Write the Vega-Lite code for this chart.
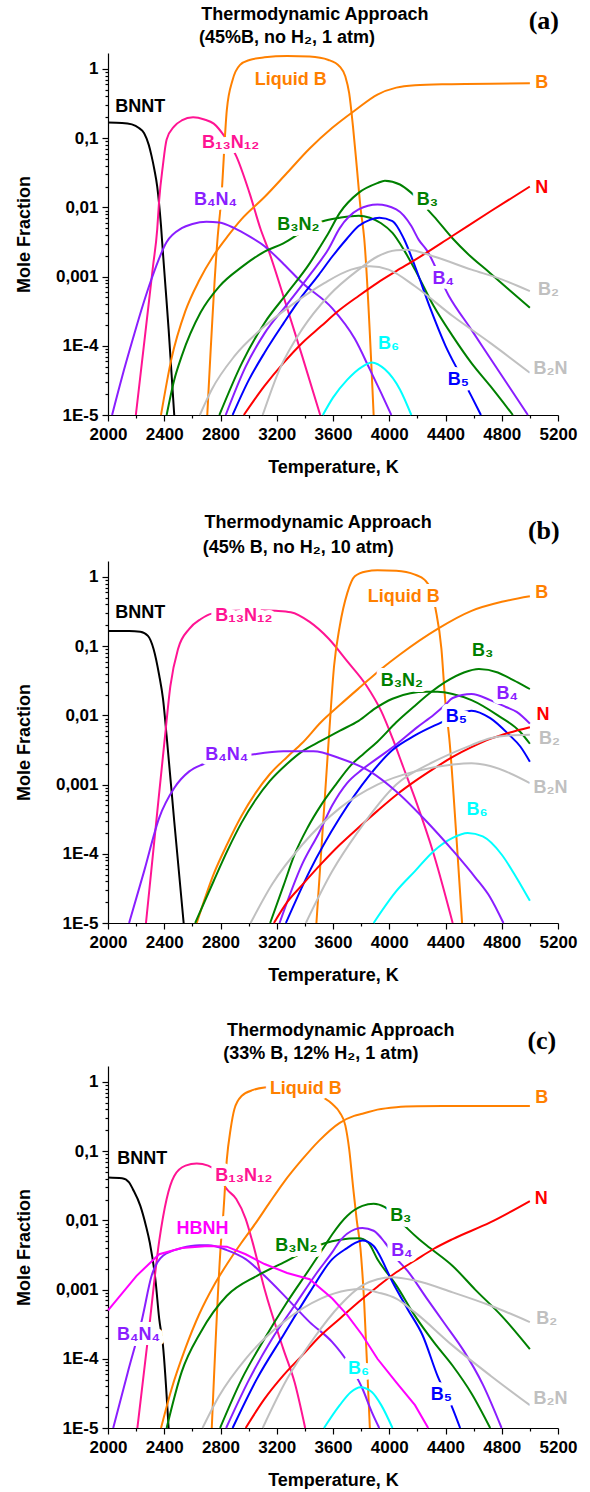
{
"$schema": "https://vega.github.io/schema/vega-lite/v6.json",
"padding": {"left": 15, "top": 5, "right": 4, "bottom": 0},
"spacing": 38,
"config": {
  "view": {"stroke": null},
  "axis": {"domainColor": "black", "domainWidth": 1.2, "tickColor": "black", "tickWidth": 1.2, "labelFont": "Liberation Sans", "labelFontWeight": "bold", "labelFontSize": 17, "labelColor": "black", "titleFont": "Liberation Sans", "titleFontWeight": "bold", "titleFontSize": 18, "titleColor": "black", "grid": false, "labelOverlap": false, "labelFlush": false, "labelBound": false},
  "text": {"font": "Liberation Sans", "fontSize": 18, "fontWeight": "bold"},
  "line": {"strokeWidth": 2, "interpolate": "monotone", "clip": true}
},
"datasets": {
"a": [
{"s":"BNNT","T":2000,"v":0.168},{"s":"BNNT","T":2100,"v":0.166},{"s":"BNNT","T":2170,"v":0.158},{"s":"BNNT","T":2220,"v":0.14},{"s":"BNNT","T":2257,"v":0.118},{"s":"BNNT","T":2290,"v":0.08},{"s":"BNNT","T":2310,"v":0.055},{"s":"BNNT","T":2330,"v":0.035},{"s":"BNNT","T":2350,"v":0.02},{"s":"BNNT","T":2377,"v":0.0054},{"s":"BNNT","T":2390,"v":0.0023},{"s":"BNNT","T":2410,"v":0.00066},{"s":"BNNT","T":2431,"v":0.000174},{"s":"BNNT","T":2450,"v":0.000045},{"s":"BNNT","T":2471,"v":0.00001},
{"s":"B13N12","T":2198,"v":1e-5},{"s":"B13N12","T":2260,"v":1.23e-4},{"s":"B13N12","T":2320,"v":1.41e-3},{"s":"B13N12","T":2350,"v":4.8e-3},{"s":"B13N12","T":2364,"v":0.0129},{"s":"B13N12","T":2390,"v":0.0398},{"s":"B13N12","T":2417,"v":0.0955},{"s":"B13N12","T":2471,"v":0.148},{"s":"B13N12","T":2524,"v":0.18},{"s":"B13N12","T":2605,"v":0.2},{"s":"B13N12","T":2685,"v":0.186},{"s":"B13N12","T":2752,"v":0.162},{"s":"B13N12","T":2830,"v":0.105},{"s":"B13N12","T":2912,"v":0.055},{"s":"B13N12","T":3006,"v":0.0162},{"s":"B13N12","T":3086,"v":4.79e-3},{"s":"B13N12","T":3140,"v":2.45e-3},{"s":"B13N12","T":3247,"v":5.25e-4},{"s":"B13N12","T":3381,"v":7.08e-5},{"s":"B13N12","T":3509,"v":1e-5},
{"s":"LiqB","T":2706,"v":1e-5},{"s":"LiqB","T":2779,"v":3.55e-3},{"s":"LiqB","T":2805,"v":0.0129},{"s":"LiqB","T":2845,"v":0.257},{"s":"LiqB","T":2886,"v":0.692},{"s":"LiqB","T":2939,"v":1.143},{"s":"LiqB","T":3006,"v":1.349},{"s":"LiqB","T":3113,"v":1.472},{"s":"LiqB","T":3274,"v":1.54},{"s":"LiqB","T":3434,"v":1.507},{"s":"LiqB","T":3568,"v":1.349},{"s":"LiqB","T":3648,"v":1.081},{"s":"LiqB","T":3688,"v":0.776},{"s":"LiqB","T":3715,"v":0.447},{"s":"LiqB","T":3742,"v":0.148},{"s":"LiqB","T":3769,"v":0.0389},{"s":"LiqB","T":3795,"v":0.0102},{"s":"LiqB","T":3822,"v":3.55e-3},{"s":"LiqB","T":3889,"v":1e-5},
{"s":"B","T":2377,"v":1e-5},{"s":"B","T":2450,"v":6.31e-5},{"s":"B","T":2550,"v":3.16e-4},{"s":"B","T":2650,"v":8.91e-4},{"s":"B","T":2750,"v":2e-3},{"s":"B","T":2850,"v":3.8e-3},{"s":"B","T":2950,"v":6.76e-3},{"s":"B","T":3113,"v":0.0141},{"s":"B","T":3274,"v":0.0316},{"s":"B","T":3434,"v":0.0708},{"s":"B","T":3595,"v":0.141},{"s":"B","T":3755,"v":0.251},{"s":"B","T":3916,"v":0.427},{"s":"B","T":4050,"v":0.537},{"s":"B","T":4183,"v":0.582},{"s":"B","T":4400,"v":0.603},{"s":"B","T":5000,"v":0.621},
{"s":"B4N4","T":2029,"v":1e-5},{"s":"B4N4","T":2100,"v":3.55e-5},{"s":"B4N4","T":2177,"v":1.26e-4},{"s":"B4N4","T":2250,"v":3.98e-4},{"s":"B4N4","T":2310,"v":9.3e-4},{"s":"B4N4","T":2417,"v":3.16e-3},{"s":"B4N4","T":2524,"v":5.01e-3},{"s":"B4N4","T":2600,"v":5.75e-3},{"s":"B4N4","T":2700,"v":6.2e-3},{"s":"B4N4","T":2792,"v":6.03e-3},{"s":"B4N4","T":2899,"v":5.01e-3},{"s":"B4N4","T":3006,"v":3.8e-3},{"s":"B4N4","T":3113,"v":2.75e-3},{"s":"B4N4","T":3250,"v":1.51e-3},{"s":"B4N4","T":3381,"v":8.13e-4},{"s":"B4N4","T":3595,"v":3.47e-4},{"s":"B4N4","T":3755,"v":1.26e-4},{"s":"B4N4","T":3862,"v":4.57e-5},{"s":"B4N4","T":3942,"v":2.09e-5},{"s":"B4N4","T":4015,"v":1e-5},
{"s":"B3N2","T":2417,"v":1e-5},{"s":"B3N2","T":2470,"v":3.16e-5},{"s":"B3N2","T":2524,"v":7.08e-5},{"s":"B3N2","T":2658,"v":3.02e-4},{"s":"B3N2","T":2792,"v":7.24e-4},{"s":"B3N2","T":2952,"v":1.38e-3},{"s":"B3N2","T":3113,"v":2.29e-3},{"s":"B3N2","T":3247,"v":3.02e-3},{"s":"B3N2","T":3400,"v":4.68e-3},{"s":"B3N2","T":3528,"v":6.31e-3},{"s":"B3N2","T":3648,"v":7.08e-3},{"s":"B3N2","T":3782,"v":7.59e-3},{"s":"B3N2","T":3862,"v":7.08e-3},{"s":"B3N2","T":3942,"v":5.89e-3},{"s":"B3N2","T":4023,"v":4.27e-3},{"s":"B3N2","T":4103,"v":2.45e-3},{"s":"B3N2","T":4183,"v":1.26e-3},{"s":"B3N2","T":4317,"v":3.72e-4},{"s":"B3N2","T":4451,"v":1.38e-4},{"s":"B3N2","T":4585,"v":5.62e-5},{"s":"B3N2","T":4718,"v":2.63e-5},{"s":"B3N2","T":4879,"v":1e-5},
{"s":"B3","T":2792,"v":1e-5},{"s":"B3","T":2952,"v":5.62e-5},{"s":"B3","T":3113,"v":2.14e-4},{"s":"B3","T":3274,"v":5.75e-4},{"s":"B3","T":3434,"v":1.55e-3},{"s":"B3","T":3514,"v":2.82e-3},{"s":"B3","T":3568,"v":4.27e-3},{"s":"B3","T":3648,"v":8.32e-3},{"s":"B3","T":3782,"v":0.0162},{"s":"B3","T":3916,"v":0.0224},{"s":"B3","T":3969,"v":0.0243},{"s":"B3","T":4076,"v":0.0214},{"s":"B3","T":4157,"v":0.0162},{"s":"B3","T":4317,"v":7.41e-3},{"s":"B3","T":4451,"v":3.55e-3},{"s":"B3","T":4558,"v":2.14e-3},{"s":"B3","T":4718,"v":1.12e-3},{"s":"B3","T":4852,"v":6.46e-4},{"s":"B3","T":5000,"v":3.55e-4},
{"s":"B4","T":2837,"v":1e-5},{"s":"B4","T":2979,"v":5.01e-5},{"s":"B4","T":3113,"v":1.51e-4},{"s":"B4","T":3274,"v":3.98e-4},{"s":"B4","T":3434,"v":1.05e-3},{"s":"B4","T":3568,"v":2.51e-3},{"s":"B4","T":3648,"v":5.01e-3},{"s":"B4","T":3782,"v":9.33e-3},{"s":"B4","T":3916,"v":0.011},{"s":"B4","T":4050,"v":9.33e-3},{"s":"B4","T":4157,"v":5.37e-3},{"s":"B4","T":4210,"v":3.39e-3},{"s":"B4","T":4264,"v":2.45e-3},{"s":"B4","T":4424,"v":5.25e-4},{"s":"B4","T":4585,"v":1.7e-4},{"s":"B4","T":4718,"v":6.6e-5},{"s":"B4","T":4986,"v":1e-5},
{"s":"B5","T":2886,"v":1e-5},{"s":"B5","T":3000,"v":3.16e-5},{"s":"B5","T":3113,"v":7.94e-5},{"s":"B5","T":3250,"v":2.14e-4},{"s":"B5","T":3381,"v":5.25e-4},{"s":"B5","T":3500,"v":1.07e-3},{"s":"B5","T":3595,"v":1.95e-3},{"s":"B5","T":3700,"v":3.55e-3},{"s":"B5","T":3782,"v":5.37e-3},{"s":"B5","T":3862,"v":6.61e-3},{"s":"B5","T":3930,"v":7.08e-3},{"s":"B5","T":4023,"v":6.31e-3},{"s":"B5","T":4103,"v":3.55e-3},{"s":"B5","T":4183,"v":1.41e-3},{"s":"B5","T":4290,"v":3.55e-4},{"s":"B5","T":4400,"v":1e-4},{"s":"B5","T":4500,"v":3.98e-5},{"s":"B5","T":4585,"v":1.86e-5},{"s":"B5","T":4652,"v":1e-5},
{"s":"B6","T":3528,"v":1e-5},{"s":"B6","T":3600,"v":1.78e-5},{"s":"B6","T":3702,"v":3.24e-5},{"s":"B6","T":3809,"v":5.01e-5},{"s":"B6","T":3876,"v":5.75e-5},{"s":"B6","T":3969,"v":4.57e-5},{"s":"B6","T":4076,"v":2.34e-5},{"s":"B6","T":4157,"v":1e-5},
{"s":"N","T":2966,"v":1e-5},{"s":"N","T":3113,"v":2.63e-5},{"s":"N","T":3247,"v":5.62e-5},{"s":"N","T":3381,"v":1.1e-4},{"s":"N","T":3514,"v":1.91e-4},{"s":"N","T":3648,"v":3.31e-4},{"s":"N","T":3782,"v":5.25e-4},{"s":"N","T":3916,"v":8.13e-4},{"s":"N","T":4050,"v":1.2e-3},{"s":"N","T":4183,"v":1.74e-3},{"s":"N","T":4451,"v":3.89e-3},{"s":"N","T":4718,"v":8.71e-3},{"s":"N","T":5000,"v":0.02},
{"s":"B2","T":3100,"v":1e-5},{"s":"B2","T":3220,"v":4.57e-5},{"s":"B2","T":3381,"v":1.74e-4},{"s":"B2","T":3568,"v":5.25e-4},{"s":"B2","T":3782,"v":1.26e-3},{"s":"B2","T":3916,"v":1.95e-3},{"s":"B2","T":4050,"v":2.4e-3},{"s":"B2","T":4130,"v":2.45e-3},{"s":"B2","T":4317,"v":1.95e-3},{"s":"B2","T":4585,"v":1.26e-3},{"s":"B2","T":4799,"v":9.12e-4},{"s":"B2","T":5000,"v":6.17e-4},
{"s":"B2N","T":2653,"v":1e-5},{"s":"B2N","T":2738,"v":2.34e-5},{"s":"B2N","T":2899,"v":7.08e-5},{"s":"B2N","T":3113,"v":1.91e-4},{"s":"B2N","T":3327,"v":4.17e-4},{"s":"B2N","T":3541,"v":8.13e-4},{"s":"B2N","T":3728,"v":1.26e-3},{"s":"B2N","T":3862,"v":1.41e-3},{"s":"B2N","T":3996,"v":1.26e-3},{"s":"B2N","T":4183,"v":7.24e-4},{"s":"B2N","T":4451,"v":2.69e-4},{"s":"B2N","T":4718,"v":1.1e-4},{"s":"B2N","T":5000,"v":4.07e-5}
],
"b": [
{"s":"BNNT","T":2000,"v":0.166},{"s":"BNNT","T":2150,"v":0.166},{"s":"BNNT","T":2230,"v":0.162},{"s":"BNNT","T":2284,"v":0.141},{"s":"BNNT","T":2324,"v":0.0912},{"s":"BNNT","T":2364,"v":0.038},{"s":"BNNT","T":2391,"v":0.0174},{"s":"BNNT","T":2417,"v":5.01e-3},{"s":"BNNT","T":2471,"v":2.95e-4},{"s":"BNNT","T":2538,"v":1e-5},
{"s":"B13N12","T":2270,"v":1e-5},{"s":"B13N12","T":2340,"v":2.51e-4},{"s":"B13N12","T":2404,"v":4.68e-3},{"s":"B13N12","T":2444,"v":0.0269},{"s":"B13N12","T":2498,"v":0.0912},{"s":"B13N12","T":2578,"v":0.178},{"s":"B13N12","T":2658,"v":0.245},{"s":"B13N12","T":2738,"v":0.295},{"s":"B13N12","T":2900,"v":0.324},{"s":"B13N12","T":3050,"v":0.331},{"s":"B13N12","T":3193,"v":0.324},{"s":"B13N12","T":3300,"v":0.309},{"s":"B13N12","T":3434,"v":0.224},{"s":"B13N12","T":3568,"v":0.129},{"s":"B13N12","T":3702,"v":0.0603},{"s":"B13N12","T":3835,"v":0.0275},{"s":"B13N12","T":3943,"v":0.0115},{"s":"B13N12","T":4023,"v":4.68e-3},{"s":"B13N12","T":4100,"v":1.78e-3},{"s":"B13N12","T":4183,"v":6.31e-4},{"s":"B13N12","T":4317,"v":9.77e-5},{"s":"B13N12","T":4451,"v":1e-5},
{"s":"LiqB","T":3482,"v":1e-5},{"s":"LiqB","T":3568,"v":3.98e-3},{"s":"LiqB","T":3608,"v":0.0525},{"s":"LiqB","T":3648,"v":0.195},{"s":"LiqB","T":3702,"v":0.589},{"s":"LiqB","T":3755,"v":1.023},{"s":"LiqB","T":3835,"v":1.202},{"s":"LiqB","T":3916,"v":1.247},{"s":"LiqB","T":4050,"v":1.23},{"s":"LiqB","T":4183,"v":1.081},{"s":"LiqB","T":4250,"v":0.916},{"s":"LiqB","T":4300,"v":0.631},{"s":"LiqB","T":4330,"v":0.339},{"s":"LiqB","T":4371,"v":0.0912},{"s":"LiqB","T":4397,"v":0.0174},{"s":"LiqB","T":4430,"v":3.98e-3},{"s":"LiqB","T":4478,"v":1.7e-4},{"s":"LiqB","T":4518,"v":1e-5},
{"s":"B","T":2631,"v":1e-5},{"s":"B","T":2750,"v":5.01e-5},{"s":"B","T":2850,"v":1.41e-4},{"s":"B","T":2950,"v":3.55e-4},{"s":"B","T":3050,"v":7.59e-4},{"s":"B","T":3150,"v":1.41e-3},{"s":"B","T":3274,"v":2.51e-3},{"s":"B","T":3381,"v":3.98e-3},{"s":"B","T":3514,"v":7.94e-3},{"s":"B","T":3648,"v":0.0141},{"s":"B","T":3800,"v":0.0263},{"s":"B","T":3943,"v":0.0468},{"s":"B","T":4076,"v":0.0759},{"s":"B","T":4344,"v":0.178},{"s":"B","T":4585,"v":0.324},{"s":"B","T":4800,"v":0.437},{"s":"B","T":5000,"v":0.525},
{"s":"B3N2","T":2620,"v":1e-5},{"s":"B3N2","T":2750,"v":3.98e-5},{"s":"B3N2","T":2850,"v":1.12e-4},{"s":"B3N2","T":2950,"v":2.82e-4},{"s":"B3N2","T":3050,"v":6.03e-4},{"s":"B3N2","T":3150,"v":1.12e-3},{"s":"B3N2","T":3274,"v":2e-3},{"s":"B3N2","T":3381,"v":3.02e-3},{"s":"B3N2","T":3514,"v":4.27e-3},{"s":"B3N2","T":3650,"v":6.03e-3},{"s":"B3N2","T":3782,"v":8.32e-3},{"s":"B3N2","T":3900,"v":0.0126},{"s":"B3N2","T":4023,"v":0.0174},{"s":"B3N2","T":4150,"v":0.0209},{"s":"B3N2","T":4264,"v":0.0219},{"s":"B3N2","T":4344,"v":0.0219},{"s":"B3N2","T":4450,"v":0.0204},{"s":"B3N2","T":4585,"v":0.0166},{"s":"B3N2","T":4772,"v":0.01},{"s":"B3N2","T":4932,"v":5.75e-3},{"s":"B3N2","T":5000,"v":3.89e-3},
{"s":"B3","T":3153,"v":1e-5},{"s":"B3","T":3250,"v":3.55e-5},{"s":"B3","T":3327,"v":9.77e-5},{"s":"B3","T":3420,"v":2.4e-4},{"s":"B3","T":3514,"v":5.01e-4},{"s":"B3","T":3620,"v":1e-3},{"s":"B3","T":3728,"v":1.91e-3},{"s":"B3","T":3820,"v":2.82e-3},{"s":"B3","T":3916,"v":4.17e-3},{"s":"B3","T":4050,"v":7.94e-3},{"s":"B3","T":4183,"v":0.0138},{"s":"B3","T":4300,"v":0.0219},{"s":"B3","T":4397,"v":0.0302},{"s":"B3","T":4531,"v":0.0417},{"s":"B3","T":4638,"v":0.0468},{"s":"B3","T":4772,"v":0.0417},{"s":"B3","T":4852,"v":0.0347},{"s":"B3","T":4930,"v":0.0288},{"s":"B3","T":5000,"v":0.024},
{"s":"B4","T":3220,"v":1e-5},{"s":"B4","T":3381,"v":7.08e-5},{"s":"B4","T":3500,"v":2e-4},{"s":"B4","T":3595,"v":5.01e-4},{"s":"B4","T":3700,"v":1.05e-3},{"s":"B4","T":3809,"v":1.66e-3},{"s":"B4","T":3930,"v":2.51e-3},{"s":"B4","T":4050,"v":3.8e-3},{"s":"B4","T":4200,"v":6.76e-3},{"s":"B4","T":4317,"v":0.0102},{"s":"B4","T":4397,"v":0.0141},{"s":"B4","T":4451,"v":0.0178},{"s":"B4","T":4585,"v":0.0204},{"s":"B4","T":4718,"v":0.0166},{"s":"B4","T":4830,"v":0.0132},{"s":"B4","T":4906,"v":0.0112},{"s":"B4","T":5000,"v":7.59e-3},
{"s":"B5","T":3265,"v":1e-5},{"s":"B5","T":3434,"v":5.62e-5},{"s":"B5","T":3648,"v":3.31e-4},{"s":"B5","T":3862,"v":1.38e-3},{"s":"B5","T":4023,"v":3.16e-3},{"s":"B5","T":4183,"v":5.13e-3},{"s":"B5","T":4371,"v":7.94e-3},{"s":"B5","T":4518,"v":0.011},{"s":"B5","T":4585,"v":0.0117},{"s":"B5","T":4718,"v":9.12e-3},{"s":"B5","T":4852,"v":5.25e-3},{"s":"B5","T":4932,"v":3.55e-3},{"s":"B5","T":5000,"v":2.14e-3},
{"s":"B6","T":3889,"v":1e-5},{"s":"B6","T":4050,"v":2.88e-5},{"s":"B6","T":4183,"v":5.62e-5},{"s":"B6","T":4317,"v":1.1e-4},{"s":"B6","T":4451,"v":1.7e-4},{"s":"B6","T":4558,"v":2e-4},{"s":"B6","T":4665,"v":1.78e-4},{"s":"B6","T":4799,"v":9.77e-5},{"s":"B6","T":4906,"v":4.47e-5},{"s":"B6","T":5000,"v":2.09e-5},
{"s":"N","T":3180,"v":1e-5},{"s":"N","T":3274,"v":2e-5},{"s":"N","T":3381,"v":3.55e-5},{"s":"N","T":3514,"v":7.08e-5},{"s":"N","T":3648,"v":1.35e-4},{"s":"N","T":3782,"v":2.4e-4},{"s":"N","T":3916,"v":4.17e-4},{"s":"N","T":4050,"v":7.08e-4},{"s":"N","T":4183,"v":1.12e-3},{"s":"N","T":4317,"v":1.7e-3},{"s":"N","T":4451,"v":2.51e-3},{"s":"N","T":4585,"v":3.47e-3},{"s":"N","T":4718,"v":4.57e-3},{"s":"N","T":4852,"v":5.62e-3},{"s":"N","T":5000,"v":6.76e-3},
{"s":"B2","T":3407,"v":1e-5},{"s":"B2","T":3595,"v":5.62e-5},{"s":"B2","T":3782,"v":2.14e-4},{"s":"B2","T":4050,"v":1e-3},{"s":"B2","T":4317,"v":2.14e-3},{"s":"B2","T":4585,"v":3.72e-3},{"s":"B2","T":4718,"v":4.68e-3},{"s":"B2","T":4850,"v":5.13e-3},{"s":"B2","T":5000,"v":5.25e-3},
{"s":"B2N","T":3014,"v":1e-5},{"s":"B2N","T":3167,"v":3.63e-5},{"s":"B2N","T":3381,"v":1.35e-4},{"s":"B2N","T":3648,"v":4.57e-4},{"s":"B2N","T":3916,"v":1e-3},{"s":"B2N","T":4183,"v":1.55e-3},{"s":"B2N","T":4451,"v":1.95e-3},{"s":"B2N","T":4585,"v":2.04e-3},{"s":"B2N","T":4718,"v":1.86e-3},{"s":"B2N","T":5000,"v":1.05e-3},
{"s":"B4N4","T":2150,"v":1e-5},{"s":"B4N4","T":2257,"v":5.62e-5},{"s":"B4N4","T":2364,"v":3.31e-4},{"s":"B4N4","T":2471,"v":8.91e-4},{"s":"B4N4","T":2578,"v":1.55e-3},{"s":"B4N4","T":2672,"v":1.95e-3},{"s":"B4N4","T":2845,"v":2.4e-3},{"s":"B4N4","T":3006,"v":2.69e-3},{"s":"B4N4","T":3247,"v":3.02e-3},{"s":"B4N4","T":3461,"v":3.02e-3},{"s":"B4N4","T":3648,"v":2.4e-3},{"s":"B4N4","T":3862,"v":1.55e-3},{"s":"B4N4","T":4050,"v":7.94e-4},{"s":"B4N4","T":4264,"v":2.95e-4},{"s":"B4N4","T":4451,"v":1.12e-4},{"s":"B4N4","T":4611,"v":4.57e-5},{"s":"B4N4","T":4718,"v":2.34e-5},{"s":"B4N4","T":4812,"v":1e-5}
],
"c": [
{"s":"BNNT","T":2000,"v":0.0417},{"s":"BNNT","T":2100,"v":0.0407},{"s":"BNNT","T":2150,"v":0.0355},{"s":"BNNT","T":2177,"v":0.0282},{"s":"BNNT","T":2230,"v":0.0162},{"s":"BNNT","T":2270,"v":8.32e-3},{"s":"BNNT","T":2297,"v":4.79e-3},{"s":"BNNT","T":2337,"v":1.41e-3},{"s":"BNNT","T":2364,"v":3.8e-4},{"s":"BNNT","T":2391,"v":1.55e-4},{"s":"BNNT","T":2431,"v":1e-5},
{"s":"B13N12","T":2209,"v":1e-5},{"s":"B13N12","T":2290,"v":2.51e-4},{"s":"B13N12","T":2364,"v":5.01e-3},{"s":"B13N12","T":2417,"v":0.0204},{"s":"B13N12","T":2471,"v":0.0437},{"s":"B13N12","T":2551,"v":0.0617},{"s":"B13N12","T":2631,"v":0.0661},{"s":"B13N12","T":2712,"v":0.0617},{"s":"B13N12","T":2765,"v":0.0525},{"s":"B13N12","T":2845,"v":0.0282},{"s":"B13N12","T":2912,"v":0.0204},{"s":"B13N12","T":2979,"v":0.0105},{"s":"B13N12","T":3026,"v":5.01e-3},{"s":"B13N12","T":3113,"v":1.02e-3},{"s":"B13N12","T":3247,"v":1.38e-4},{"s":"B13N12","T":3327,"v":4.57e-5},{"s":"B13N12","T":3402,"v":1e-5},
{"s":"LiqB","T":2738,"v":1e-5},{"s":"LiqB","T":2805,"v":5.37e-3},{"s":"LiqB","T":2819,"v":0.0117},{"s":"LiqB","T":2845,"v":0.0759},{"s":"LiqB","T":2872,"v":0.209},{"s":"LiqB","T":2899,"v":0.407},{"s":"LiqB","T":2952,"v":0.631},{"s":"LiqB","T":3033,"v":0.767},{"s":"LiqB","T":3113,"v":0.832},{"s":"LiqB","T":3300,"v":0.871},{"s":"LiqB","T":3450,"v":0.708},{"s":"LiqB","T":3595,"v":0.479},{"s":"LiqB","T":3648,"v":0.363},{"s":"LiqB","T":3688,"v":0.234},{"s":"LiqB","T":3715,"v":0.107},{"s":"LiqB","T":3742,"v":0.0316},{"s":"LiqB","T":3769,"v":0.01},{"s":"LiqB","T":3795,"v":3.98e-3},{"s":"LiqB","T":3822,"v":6.31e-4},{"s":"LiqB","T":3849,"v":3.98e-5},{"s":"LiqB","T":3862,"v":1e-5},
{"s":"B","T":2377,"v":1e-5},{"s":"B","T":2450,"v":3.55e-5},{"s":"B","T":2550,"v":1.41e-4},{"s":"B","T":2650,"v":4.47e-4},{"s":"B","T":2750,"v":1.12e-3},{"s":"B","T":2850,"v":2.4e-3},{"s":"B","T":2950,"v":4.79e-3},{"s":"B","T":3050,"v":9.12e-3},{"s":"B","T":3150,"v":0.0182},{"s":"B","T":3250,"v":0.0355},{"s":"B","T":3381,"v":0.0759},{"s":"B","T":3500,"v":0.141},{"s":"B","T":3648,"v":0.257},{"s":"B","T":3750,"v":0.324},{"s":"B","T":3809,"v":0.347},{"s":"B","T":3916,"v":0.398},{"s":"B","T":4050,"v":0.432},{"s":"B","T":4200,"v":0.445},{"s":"B","T":4500,"v":0.449},{"s":"B","T":5000,"v":0.451},
{"s":"HBNH","T":2000,"v":5.01e-4},{"s":"HBNH","T":2203,"v":1.58e-3},{"s":"HBNH","T":2364,"v":3.24e-3},{"s":"HBNH","T":2524,"v":3.98e-3},{"s":"HBNH","T":2712,"v":4.27e-3},{"s":"HBNH","T":2845,"v":4.17e-3},{"s":"HBNH","T":2979,"v":3.24e-3},{"s":"HBNH","T":3113,"v":2.34e-3},{"s":"HBNH","T":3274,"v":1.74e-3},{"s":"HBNH","T":3434,"v":1.41e-3},{"s":"HBNH","T":3595,"v":7.41e-4},{"s":"HBNH","T":3702,"v":4.27e-4},{"s":"HBNH","T":3809,"v":2.19e-4},{"s":"HBNH","T":3916,"v":1e-4},{"s":"HBNH","T":4050,"v":4.57e-5},{"s":"HBNH","T":4183,"v":2.14e-5},{"s":"HBNH","T":4277,"v":1e-5},
{"s":"B4N4","T":2037,"v":1e-5},{"s":"B4N4","T":2140,"v":6.31e-5},{"s":"B4N4","T":2243,"v":3.8e-4},{"s":"B4N4","T":2310,"v":1.58e-3},{"s":"B4N4","T":2391,"v":3.09e-3},{"s":"B4N4","T":2524,"v":3.98e-3},{"s":"B4N4","T":2650,"v":4.37e-3},{"s":"B4N4","T":2712,"v":4.37e-3},{"s":"B4N4","T":2845,"v":3.72e-3},{"s":"B4N4","T":2979,"v":2.75e-3},{"s":"B4N4","T":3113,"v":1.58e-3},{"s":"B4N4","T":3274,"v":7.41e-4},{"s":"B4N4","T":3434,"v":3.39e-4},{"s":"B4N4","T":3595,"v":1.74e-4},{"s":"B4N4","T":3702,"v":9.12e-5},{"s":"B4N4","T":3809,"v":3.72e-5},{"s":"B4N4","T":3876,"v":1.7e-5},{"s":"B4N4","T":3929,"v":1e-5},
{"s":"B3N2","T":2417,"v":1e-5},{"s":"B3N2","T":2524,"v":6.46e-5},{"s":"B3N2","T":2658,"v":2.4e-4},{"s":"B3N2","T":2845,"v":8.13e-4},{"s":"B3N2","T":3059,"v":1.58e-3},{"s":"B3N2","T":3247,"v":2.45e-3},{"s":"B3N2","T":3400,"v":3.55e-3},{"s":"B3N2","T":3541,"v":4.68e-3},{"s":"B3N2","T":3650,"v":5.25e-3},{"s":"B3N2","T":3782,"v":5.5e-3},{"s":"B3N2","T":3850,"v":4.79e-3},{"s":"B3N2","T":3916,"v":2.75e-3},{"s":"B3N2","T":4050,"v":1.15e-3},{"s":"B3N2","T":4183,"v":4.17e-4},{"s":"B3N2","T":4317,"v":1.74e-4},{"s":"B3N2","T":4451,"v":7.94e-5},{"s":"B3N2","T":4585,"v":3.16e-5},{"s":"B3N2","T":4718,"v":1e-5},
{"s":"B3","T":2797,"v":1e-5},{"s":"B3","T":2952,"v":5.13e-5},{"s":"B3","T":3113,"v":1.95e-4},{"s":"B3","T":3274,"v":6.61e-4},{"s":"B3","T":3434,"v":2e-3},{"s":"B3","T":3541,"v":4.27e-3},{"s":"B3","T":3595,"v":6.31e-3},{"s":"B3","T":3702,"v":0.0117},{"s":"B3","T":3809,"v":0.0162},{"s":"B3","T":3889,"v":0.0174},{"s":"B3","T":3969,"v":0.0155},{"s":"B3","T":4050,"v":0.0112},{"s":"B3","T":4130,"v":7.59e-3},{"s":"B3","T":4210,"v":5.37e-3},{"s":"B3","T":4290,"v":3.98e-3},{"s":"B3","T":4451,"v":2.19e-3},{"s":"B3","T":4611,"v":1e-3},{"s":"B3","T":4799,"v":4.17e-4},{"s":"B3","T":5000,"v":1.38e-4},
{"s":"B4","T":2840,"v":1e-5},{"s":"B4","T":3006,"v":5.13e-5},{"s":"B4","T":3167,"v":1.95e-4},{"s":"B4","T":3327,"v":5.89e-4},{"s":"B4","T":3488,"v":1.78e-3},{"s":"B4","T":3595,"v":3.47e-3},{"s":"B4","T":3648,"v":5.01e-3},{"s":"B4","T":3755,"v":7.41e-3},{"s":"B4","T":3809,"v":7.76e-3},{"s":"B4","T":3889,"v":7.08e-3},{"s":"B4","T":3969,"v":4.79e-3},{"s":"B4","T":4050,"v":2.82e-3},{"s":"B4","T":4130,"v":1.86e-3},{"s":"B4","T":4264,"v":7.59e-4},{"s":"B4","T":4397,"v":3.16e-4},{"s":"B4","T":4531,"v":1.29e-4},{"s":"B4","T":4665,"v":4.27e-5},{"s":"B4","T":4799,"v":1e-5},
{"s":"B5","T":2886,"v":1e-5},{"s":"B5","T":3059,"v":5.13e-5},{"s":"B5","T":3247,"v":2.19e-4},{"s":"B5","T":3434,"v":9.12e-4},{"s":"B5","T":3595,"v":2.75e-3},{"s":"B5","T":3700,"v":3.98e-3},{"s":"B5","T":3755,"v":4.68e-3},{"s":"B5","T":3809,"v":5.13e-3},{"s":"B5","T":3889,"v":4.27e-3},{"s":"B5","T":3916,"v":3.55e-3},{"s":"B5","T":4023,"v":1.29e-3},{"s":"B5","T":4130,"v":5.25e-4},{"s":"B5","T":4237,"v":2.19e-4},{"s":"B5","T":4344,"v":5.62e-5},{"s":"B5","T":4451,"v":1.91e-5},{"s":"B5","T":4504,"v":1e-5},
{"s":"B6","T":3536,"v":1e-5},{"s":"B6","T":3648,"v":2.14e-5},{"s":"B6","T":3728,"v":3.31e-5},{"s":"B6","T":3795,"v":3.89e-5},{"s":"B6","T":3876,"v":3.31e-5},{"s":"B6","T":3943,"v":2.14e-5},{"s":"B6","T":4023,"v":1e-5},
{"s":"N","T":2979,"v":1e-5},{"s":"N","T":3113,"v":2.63e-5},{"s":"N","T":3247,"v":5.75e-5},{"s":"N","T":3381,"v":1.12e-4},{"s":"N","T":3514,"v":2.19e-4},{"s":"N","T":3648,"v":3.8e-4},{"s":"N","T":3782,"v":6.61e-4},{"s":"N","T":3916,"v":1.1e-3},{"s":"N","T":4050,"v":1.78e-3},{"s":"N","T":4183,"v":2.63e-3},{"s":"N","T":4317,"v":3.89e-3},{"s":"N","T":4451,"v":5.37e-3},{"s":"N","T":4718,"v":9.33e-3},{"s":"N","T":5000,"v":0.019},
{"s":"B2","T":3100,"v":1e-5},{"s":"B2","T":3274,"v":5.13e-5},{"s":"B2","T":3461,"v":1.95e-4},{"s":"B2","T":3648,"v":5.89e-4},{"s":"B2","T":3809,"v":1.15e-3},{"s":"B2","T":3916,"v":1.41e-3},{"s":"B2","T":4023,"v":1.51e-3},{"s":"B2","T":4183,"v":1.35e-3},{"s":"B2","T":4451,"v":9.12e-4},{"s":"B2","T":4718,"v":5.89e-4},{"s":"B2","T":5000,"v":3.39e-4},
{"s":"B2N","T":2672,"v":1e-5},{"s":"B2N","T":2792,"v":2.95e-5},{"s":"B2N","T":2979,"v":1e-4},{"s":"B2N","T":3247,"v":3.39e-4},{"s":"B2N","T":3514,"v":7.41e-4},{"s":"B2N","T":3702,"v":9.77e-4},{"s":"B2N","T":3809,"v":1.02e-3},{"s":"B2N","T":3916,"v":9.12e-4},{"s":"B2N","T":4050,"v":7.41e-4},{"s":"B2N","T":4183,"v":4.68e-4},{"s":"B2N","T":4451,"v":1.55e-4},{"s":"B2N","T":4718,"v":5.75e-5},{"s":"B2N","T":5000,"v":2.14e-5}
],
"la": [
{"s":"BNNT","t":"BNNT","T":2230,"v":0.286},{"s":"B13N12","t":"B₁₃N₁₂","T":2872,"v":0.085},{"s":"LiqB","t":"Liquid B","T":3300,"v":0.69},{"s":"B","t":"B","T":5085,"v":0.62},{"s":"B4N4","t":"B₄N₄","T":2765,"v":0.0129},{"s":"B3N2","t":"B₃N₂","T":3354,"v":0.0056},{"s":"B3","t":"B₃","T":4272,"v":0.0129},{"s":"N","t":"N","T":5085,"v":0.019},{"s":"B4","t":"B₄","T":4384,"v":0.00091},{"s":"B2","t":"B₂","T":5133,"v":0.00064},{"s":"B6","t":"B₆","T":3996,"v":0.000105},{"s":"B5","t":"B₅","T":4491,"v":0.000032},{"s":"B2N","t":"B₂N","T":5147,"v":0.000046}
],
"lb": [
{"s":"BNNT","t":"BNNT","T":2230,"v":0.304},{"s":"B13N12","t":"B₁₃N₁₂","T":2966,"v":0.272},{"s":"LiqB","t":"Liquid B","T":4103,"v":0.516},{"s":"B","t":"B","T":5085,"v":0.59},{"s":"B3","t":"B₃","T":4665,"v":0.0857},{"s":"B3N2","t":"B₃N₂","T":4090,"v":0.0318},{"s":"B4","t":"B₄","T":4839,"v":0.0205},{"s":"N","t":"N","T":5093,"v":0.01},{"s":"B5","t":"B₅","T":4478,"v":0.0095},{"s":"B2","t":"B₂","T":5139,"v":0.0045},{"s":"B4N4","t":"B₄N₄","T":2845,"v":0.0027},{"s":"B2N","t":"B₂N","T":5147,"v":0.00089},{"s":"B6","t":"B₆","T":4625,"v":0.00043}
],
"lc": [
{"s":"BNNT","t":"BNNT","T":2244,"v":0.078},{"s":"B13N12","t":"B₁₃N₁₂","T":2966,"v":0.044},{"s":"LiqB","t":"Liquid B","T":3407,"v":0.78},{"s":"B","t":"B","T":5085,"v":0.594},{"s":"N","t":"N","T":5080,"v":0.0203},{"s":"B3","t":"B₃","T":4082,"v":0.0117},{"s":"HBNH","t":"HBNH","T":2672,"v":0.0075},{"s":"B3N2","t":"B₃N₂","T":3340,"v":0.0043},{"s":"B4","t":"B₄","T":4090,"v":0.0036},{"s":"B4N4","t":"B₄N₄","T":2217,"v":0.00022},{"s":"B2","t":"B₂","T":5120,"v":0.00038},{"s":"B6","t":"B₆","T":3782,"v":0.000072},{"s":"B5","t":"B₅","T":4371,"v":0.0000295},{"s":"B2N","t":"B₂N","T":5147,"v":0.0000265}
]
},
"vconcat": [
{
 "width": 450, "height": 362,
 "encoding": {
  "x": {"field": "T", "type": "quantitative", "title": "Temperature, K", "scale": {"domain": [2000, 5200], "nice": false, "zero": false},
        "axis": {"values": [2000,2200,2400,2600,2800,3000,3200,3400,3600,3800,4000,4200,4400,4600,4800,5000,5200], "labelExpr": "datum.value % 400 == 0 ? format(datum.value, 'd') : ''", "tickSize": {"condition": {"test": "datum.value % 400 == 0", "value": 6}, "value": 3}, "labelPadding": 5, "titlePadding": 16}},
  "y": {"field": "v", "type": "quantitative", "title": "Mole Fraction", "scale": {"type": "log", "domain": [1e-5, 1.7], "nice": false},
        "axis": {"values": [1e-5,2e-5,3e-5,4e-5,5e-5,6e-5,7e-5,8e-5,9e-5,1e-4,2e-4,3e-4,4e-4,5e-4,6e-4,7e-4,8e-4,9e-4,0.001,0.002,0.003,0.004,0.005,0.006,0.007,0.008,0.009,0.01,0.02,0.03,0.04,0.05,0.06,0.07,0.08,0.09,0.1,0.2,0.3,0.4,0.5,0.6,0.7,0.8,0.9,1], "labelExpr": "abs(log(datum.value)/LN10 - round(log(datum.value)/LN10)) > 0.01 ? '' : datum.value < 0.0005 ? '1E' + round(log(datum.value)/LN10) : replace(format(datum.value, '~g'), '.', ',')", "tickSize": {"condition": {"test": "abs(log(datum.value)/LN10 - round(log(datum.value)/LN10)) < 0.01", "value": 6}, "value": 3}, "labelPadding": 4, "titlePadding": 22}}
 },
 "layer": [
  {"data": {"name": "a"}, "mark": {"type": "line"}, "encoding": {"color": {"field": "s", "type": "nominal", "legend": null, "scale": {"domain": ["BNNT","B13N12","LiqB","B","B4N4","B3N2","B3","B4","B5","B6","N","B2","B2N","HBNH"], "range": ["#000000","#ff1493","#ff8000","#ff8000","#8a1eff","#008000","#008000","#8a1eff","#0000ff","#00ffff","#ff0000","#c0c0c0","#c0c0c0","#ff00ff"]}}}},
  {"data": {"name": "la"}, "mark": {"type": "text", "fill": "white", "stroke": "white", "strokeWidth": 10, "strokeJoin": "round"}, "encoding": {"text": {"field": "t"}}},
  {"data": {"name": "la"}, "mark": {"type": "text"}, "encoding": {"text": {"field": "t"}, "color": {"field": "s", "type": "nominal", "legend": null}}},
  {"data": {"values": [{"t": "Thermodynamic Approach", "T": 2663, "v": 6.08}, {"t": "(45%B, no H₂, 1 atm)", "T": 2647, "v": 2.8}]}, "mark": {"type": "text", "align": "left", "clip": false, "color": "black"}, "encoding": {"text": {"field": "t"}}},
  {"data": {"values": [{"t": "(a)", "T": 5099, "v": 4.86}]}, "mark": {"type": "text", "font": "Liberation Serif", "fontSize": 26, "fontWeight": "bold", "clip": false, "color": "black"}, "encoding": {"text": {"field": "t"}}}
 ]
},
{
 "width": 450, "height": 362,
 "encoding": {
  "x": {"field": "T", "type": "quantitative", "title": "Temperature, K", "scale": {"domain": [2000, 5200], "nice": false, "zero": false},
        "axis": {"values": [2000,2200,2400,2600,2800,3000,3200,3400,3600,3800,4000,4200,4400,4600,4800,5000,5200], "labelExpr": "datum.value % 400 == 0 ? format(datum.value, 'd') : ''", "tickSize": {"condition": {"test": "datum.value % 400 == 0", "value": 6}, "value": 3}, "labelPadding": 5, "titlePadding": 16}},
  "y": {"field": "v", "type": "quantitative", "title": "Mole Fraction", "scale": {"type": "log", "domain": [1e-5, 1.7], "nice": false},
        "axis": {"values": [1e-5,2e-5,3e-5,4e-5,5e-5,6e-5,7e-5,8e-5,9e-5,1e-4,2e-4,3e-4,4e-4,5e-4,6e-4,7e-4,8e-4,9e-4,0.001,0.002,0.003,0.004,0.005,0.006,0.007,0.008,0.009,0.01,0.02,0.03,0.04,0.05,0.06,0.07,0.08,0.09,0.1,0.2,0.3,0.4,0.5,0.6,0.7,0.8,0.9,1], "labelExpr": "abs(log(datum.value)/LN10 - round(log(datum.value)/LN10)) > 0.01 ? '' : datum.value < 0.0005 ? '1E' + round(log(datum.value)/LN10) : replace(format(datum.value, '~g'), '.', ',')", "tickSize": {"condition": {"test": "abs(log(datum.value)/LN10 - round(log(datum.value)/LN10)) < 0.01", "value": 6}, "value": 3}, "labelPadding": 4, "titlePadding": 22}}
 },
 "layer": [
  {"data": {"name": "b"}, "mark": {"type": "line"}, "encoding": {"color": {"field": "s", "type": "nominal", "legend": null, "scale": {"domain": ["BNNT","B13N12","LiqB","B","B4N4","B3N2","B3","B4","B5","B6","N","B2","B2N","HBNH"], "range": ["#000000","#ff1493","#ff8000","#ff8000","#8a1eff","#008000","#008000","#8a1eff","#0000ff","#00ffff","#ff0000","#c0c0c0","#c0c0c0","#ff00ff"]}}}},
  {"data": {"name": "lb"}, "mark": {"type": "text", "fill": "white", "stroke": "white", "strokeWidth": 10, "strokeJoin": "round"}, "encoding": {"text": {"field": "t"}}},
  {"data": {"name": "lb"}, "mark": {"type": "text"}, "encoding": {"text": {"field": "t"}, "color": {"field": "s", "type": "nominal", "legend": null}}},
  {"data": {"values": [{"t": "Thermodynamic Approach", "T": 2686, "v": 5.95}, {"t": "(45% B, no H₂, 10 atm)", "T": 2673, "v": 2.61}]}, "mark": {"type": "text", "align": "left", "clip": false, "color": "black"}, "encoding": {"text": {"field": "t"}}},
  {"data": {"values": [{"t": "(b)", "T": 5099, "v": 4.65}]}, "mark": {"type": "text", "font": "Liberation Serif", "fontSize": 26, "fontWeight": "bold", "clip": false, "color": "black"}, "encoding": {"text": {"field": "t"}}}
 ]
},
{
 "width": 450, "height": 362,
 "encoding": {
  "x": {"field": "T", "type": "quantitative", "title": "Temperature, K", "scale": {"domain": [2000, 5200], "nice": false, "zero": false},
        "axis": {"values": [2000,2200,2400,2600,2800,3000,3200,3400,3600,3800,4000,4200,4400,4600,4800,5000,5200], "labelExpr": "datum.value % 400 == 0 ? format(datum.value, 'd') : ''", "tickSize": {"condition": {"test": "datum.value % 400 == 0", "value": 6}, "value": 3}, "labelPadding": 5, "titlePadding": 16}},
  "y": {"field": "v", "type": "quantitative", "title": "Mole Fraction", "scale": {"type": "log", "domain": [1e-5, 1.7], "nice": false},
        "axis": {"values": [1e-5,2e-5,3e-5,4e-5,5e-5,6e-5,7e-5,8e-5,9e-5,1e-4,2e-4,3e-4,4e-4,5e-4,6e-4,7e-4,8e-4,9e-4,0.001,0.002,0.003,0.004,0.005,0.006,0.007,0.008,0.009,0.01,0.02,0.03,0.04,0.05,0.06,0.07,0.08,0.09,0.1,0.2,0.3,0.4,0.5,0.6,0.7,0.8,0.9,1], "labelExpr": "abs(log(datum.value)/LN10 - round(log(datum.value)/LN10)) > 0.01 ? '' : datum.value < 0.0005 ? '1E' + round(log(datum.value)/LN10) : replace(format(datum.value, '~g'), '.', ',')", "tickSize": {"condition": {"test": "abs(log(datum.value)/LN10 - round(log(datum.value)/LN10)) < 0.01", "value": 6}, "value": 3}, "labelPadding": 4, "titlePadding": 22}}
 },
 "layer": [
  {"data": {"name": "c"}, "transform": [{"filter": "datum.s != 'HBNH'"}], "mark": {"type": "line"}, "encoding": {"color": {"field": "s", "type": "nominal", "legend": null, "scale": {"domain": ["BNNT","B13N12","LiqB","B","B4N4","B3N2","B3","B4","B5","B6","N","B2","B2N","HBNH"], "range": ["#000000","#ff1493","#ff8000","#ff8000","#8a1eff","#008000","#008000","#8a1eff","#0000ff","#00ffff","#ff0000","#c0c0c0","#c0c0c0","#ff00ff"]}}}},
  {"data": {"name": "c"}, "transform": [{"filter": "datum.s == 'HBNH'"}], "mark": {"type": "line", "interpolate": "linear"}, "encoding": {"color": {"field": "s", "type": "nominal", "legend": null}}},
  {"data": {"name": "lc"}, "mark": {"type": "text", "fill": "white", "stroke": "white", "strokeWidth": 10, "strokeJoin": "round"}, "encoding": {"text": {"field": "t"}}},
  {"data": {"name": "lc"}, "mark": {"type": "text"}, "encoding": {"text": {"field": "t"}, "color": {"field": "s", "type": "nominal", "legend": null}}},
  {"data": {"values": [{"t": "Thermodynamic Approach", "T": 2847, "v": 5.44}, {"t": "(33% B, 12% H₂, 1 atm)", "T": 2820, "v": 2.51}]}, "mark": {"type": "text", "align": "left", "clip": false, "color": "black"}, "encoding": {"text": {"field": "t"}}},
  {"data": {"values": [{"t": "(c)", "T": 5085, "v": 3.9}]}, "mark": {"type": "text", "font": "Liberation Serif", "fontSize": 26, "fontWeight": "bold", "clip": false, "color": "black"}, "encoding": {"text": {"field": "t"}}}
 ]
}
]
}
